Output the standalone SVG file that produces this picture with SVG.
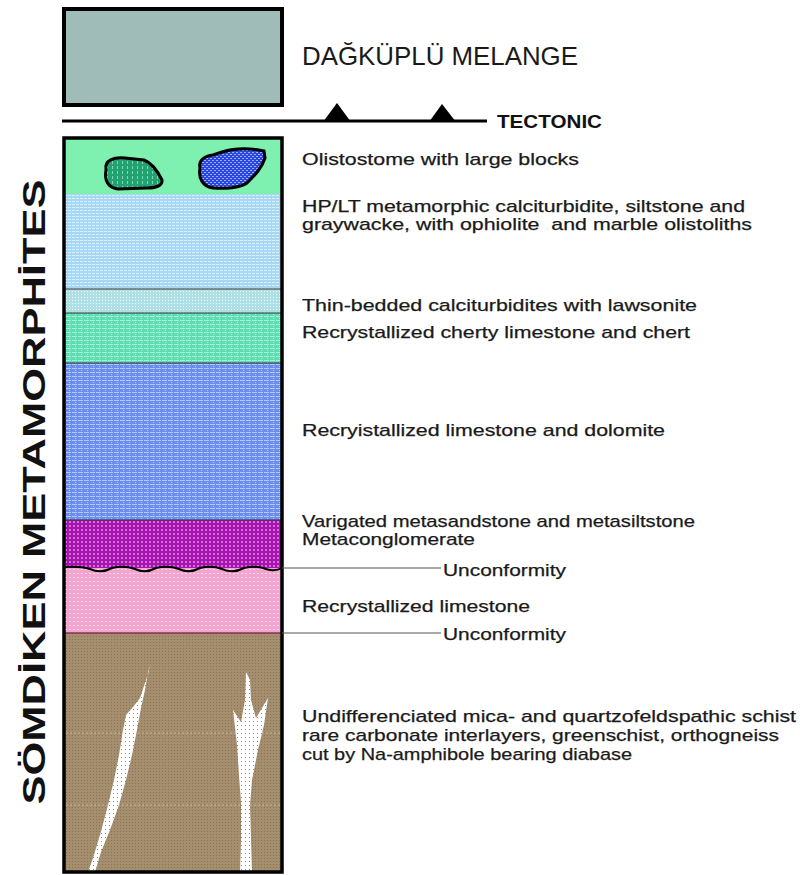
<svg xmlns="http://www.w3.org/2000/svg" width="800" height="875" viewBox="0 0 800 875">
  <style>
    .lbl { font-family: "Liberation Sans", Arial, sans-serif; font-size: 17px; fill: #1a1a1a; stroke: #1a1a1a; stroke-width: 0.25; }
    .edge { fill: none; stroke: #000; }
    .bed { stroke: #333; stroke-width: 1; }
    .lead { stroke: #555; stroke-width: 1; }
  </style>
  <defs>
    <!-- fine textures of the rock layers -->
    <pattern id="pHP" width="4" height="3" patternUnits="userSpaceOnUse">
      <rect width="4" height="3" fill="#a6d8f6"/>
      <rect x="0" y="0" width="3" height="1" fill="#d8f0ff"/>
    </pattern>
    <pattern id="pThin" width="3" height="3" patternUnits="userSpaceOnUse">
      <rect width="3" height="3" fill="#aee0e6"/>
      <rect x="0" y="0" width="1" height="1" fill="#eaffff"/>
    </pattern>
    <pattern id="pChert" width="6" height="4" patternUnits="userSpaceOnUse">
      <rect width="6" height="4" fill="#5edcb2"/>
      <rect x="0" y="0" width="5" height="1" fill="#a8f2d8"/>
      <rect x="3" y="2" width="1" height="1" fill="#a8f2d8"/>
    </pattern>
    <pattern id="pDolo" width="6" height="4" patternUnits="userSpaceOnUse">
      <rect width="6" height="4" fill="#6c8cee"/>
      <rect x="0" y="0" width="5" height="1" fill="#b4c8ff"/>
      <rect x="3" y="2" width="1" height="1" fill="#b4c8ff"/>
    </pattern>
    <pattern id="pPurple" width="4" height="4" patternUnits="userSpaceOnUse">
      <rect width="4" height="4" fill="#a416ae"/>
      <rect x="1" y="1" width="2" height="2" fill="#d868dc"/>
    </pattern>
    <pattern id="pPink" width="4" height="4" patternUnits="userSpaceOnUse">
      <rect width="4" height="4" fill="#f2a6cf"/>
      <rect x="1" y="1" width="2" height="1" fill="#ffd8ec"/>
    </pattern>
    <pattern id="pBrown" width="3" height="3" patternUnits="userSpaceOnUse">
      <rect width="3" height="3" fill="#a58e6e"/>
      <rect x="0" y="0" width="1" height="1" fill="#8a7354"/>
    </pattern>
    <pattern id="pDyke" width="4" height="4" patternUnits="userSpaceOnUse">
      <rect width="4" height="4" fill="#ffffff"/>
      <rect x="1" y="1" width="1" height="1" fill="#8c8c8c"/>
    </pattern>
    <pattern id="pGreenBlk" width="5" height="5" patternUnits="userSpaceOnUse">
      <rect width="5" height="5" fill="#22a272"/>
      <rect x="2" y="1" width="1" height="3" fill="#7fd8b0"/>
    </pattern>
    <pattern id="pBlueBlk" width="4" height="4" patternUnits="userSpaceOnUse">
      <rect width="4" height="4" fill="#2a46e0"/>
      <rect x="0" y="0" width="2" height="1" fill="#9fb0ff"/>
      <rect x="2" y="2" width="2" height="1" fill="#9fb0ff"/>
    </pattern>
  </defs>

  <!-- overlying melange unit -->
  <g id="melange">
    <rect x="64" y="9" width="218" height="96" fill="#9fbcb9" stroke="#000" stroke-width="4"/>
    <text x="302" y="65" font-family="Liberation Sans, Arial, sans-serif" font-size="26" fill="#1a1a1a" textLength="276" lengthAdjust="spacingAndGlyphs">DAĞKÜPLÜ MELANGE</text>
  </g>

  <!-- tectonic contact with thrust teeth -->
  <g id="tectonic">
    <line x1="62" y1="121" x2="487" y2="121" stroke="#000" stroke-width="3"/>
    <polygon points="323,122 337,103 351,122" fill="#000"/>
    <polygon points="429,122 442,104 456,122" fill="#000"/>
    <text x="497" y="128" font-family="Liberation Sans, Arial, sans-serif" font-size="18" font-weight="bold" fill="#111" textLength="105" lengthAdjust="spacingAndGlyphs">TECTONIC</text>
  </g>

  <!-- stratigraphic column -->
  <g id="column">
    <rect id="olistostome" x="64" y="138" width="218" height="56" fill="#7ef0b0"/>
    <rect id="hplt" x="64" y="194" width="218" height="95" fill="url(#pHP)"/>
    <rect id="thinbedded" x="64" y="289" width="218" height="24" fill="url(#pThin)"/>
    <rect id="cherty" x="64" y="313" width="218" height="50" fill="url(#pChert)"/>
    <rect id="dolomite" x="64" y="363" width="218" height="157" fill="url(#pDolo)"/>
    <rect id="metasandstone" x="64" y="520" width="218" height="49" fill="url(#pPurple)"/>
    <rect id="limestone" x="64" y="568" width="218" height="65" fill="url(#pPink)"/>
    <rect id="schist" x="64" y="633" width="218" height="240" fill="url(#pBrown)"/>

    <!-- bedding contacts -->
    <line class="bed" x1="64" y1="289" x2="282" y2="289"/>
    <line class="bed" x1="64" y1="313" x2="282" y2="313"/>
    <line class="bed" x1="64" y1="363" x2="282" y2="363"/>
    <line class="bed" x1="64" y1="520" x2="282" y2="520"/>
    <line x1="64" y1="633" x2="282" y2="633" stroke="#8a3050" stroke-width="1.5"/>
    <line x1="66" y1="733" x2="280" y2="733" stroke="#c8b898" stroke-width="1" stroke-dasharray="2 2"/>
    <line x1="66" y1="805" x2="280" y2="805" stroke="#c8b898" stroke-width="1" stroke-dasharray="2 2"/>

    <!-- erosional base of the metaconglomerate -->
    <path class="edge" stroke-width="2" d="M64,567 Q 80,566 90,569 Q 101,574 112,568 Q 124,565 135,569 Q 145,574 156,568 Q 168,565 179,569 Q 189,574 200,568 Q 212,565 222,569 Q 233,574 244,568 Q 256,565 266,569 Q 275,572 282,568"/>

    <!-- olistoliths -->
    <path id="block-ophiolite" d="M106,170 C104,160 114,157 125,158 L144,160 C152,163 158,172 162,180 C163,186 155,188 147,188 L118,189 C108,188 104,180 106,170 Z" fill="url(#pGreenBlk)" stroke="#000" stroke-width="3"/>
    <path id="block-marble" d="M200,168 C198,160 205,156 213,155 L222,152 C235,148 250,148 264,151 L265,158 C262,168 255,175 247,183 C240,188 225,189 213,188 C203,187 198,178 200,168 Z" fill="url(#pBlueBlk)" stroke="#000" stroke-width="3"/>

    <!-- diabase intrusions in the schist -->
    <polygon id="dyke-left" points="151,664 148,672 145,690 141,708 137,730 132,755 126,780 119,805 110,830 101,852 95,872 88,872 93,858 100,835 108,805 114,780 119,755 123,730 126,715 133,707 140,698 146,680" fill="url(#pDyke)"/>
    <polygon id="dyke-right" points="240,872 241,840 241,803 239,775 237,745 233,710 241,722 245,700 246,672 250,680 251,700 256,718 268,698 264,725 258,750 252,780 250,805 252,872" fill="url(#pDyke)"/>

    <rect x="64" y="138" width="218" height="734" fill="none" stroke="#000" stroke-width="3.5"/>
  </g>

  <!-- unconformity leaders -->
  <g id="connectors">
    <line class="lead" x1="282" y1="568" x2="441" y2="568"/>
    <line class="lead" x1="282" y1="633" x2="441" y2="633"/>
  </g>

  <!-- layer descriptions -->
  <g id="labels">
    <text class="lbl" x="302" y="165" textLength="277" lengthAdjust="spacingAndGlyphs">Olistostome with large blocks</text>
    <text class="lbl" x="302" y="212" textLength="443" lengthAdjust="spacingAndGlyphs">HP/LT metamorphic calciturbidite, siltstone and</text>
    <text class="lbl" x="302" y="230" textLength="450" lengthAdjust="spacingAndGlyphs" xml:space="preserve">graywacke, with ophiolite  and marble olistoliths</text>
    <text class="lbl" x="302" y="311" textLength="395" lengthAdjust="spacingAndGlyphs">Thin-bedded calciturbidites with lawsonite</text>
    <text class="lbl" x="302" y="338" textLength="388" lengthAdjust="spacingAndGlyphs">Recrystallized cherty limestone and chert</text>
    <text class="lbl" x="302" y="436" textLength="363" lengthAdjust="spacingAndGlyphs">Recryistallized limestone and dolomite</text>
    <text class="lbl" x="302" y="527" textLength="393" lengthAdjust="spacingAndGlyphs">Varigated metasandstone and metasiltstone</text>
    <text class="lbl" x="302" y="545" textLength="173" lengthAdjust="spacingAndGlyphs">Metaconglomerate</text>
    <text class="lbl" x="443" y="576" textLength="123" lengthAdjust="spacingAndGlyphs">Unconformity</text>
    <text class="lbl" x="302" y="612" textLength="228" lengthAdjust="spacingAndGlyphs">Recrystallized limestone</text>
    <text class="lbl" x="443" y="640" textLength="123" lengthAdjust="spacingAndGlyphs">Unconformity</text>
    <text class="lbl" x="302" y="722" textLength="494" lengthAdjust="spacingAndGlyphs">Undifferenciated mica- and quartzofeldspathic schist</text>
    <text class="lbl" x="302" y="741" textLength="477" lengthAdjust="spacingAndGlyphs">rare carbonate interlayers, greenschist, orthogneiss</text>
    <text class="lbl" x="302" y="760" textLength="330" lengthAdjust="spacingAndGlyphs">cut by Na-amphibole bearing diabase</text>
  </g>

  <!-- formation name along the column -->
  <g id="formation">
    <text transform="translate(45,492) rotate(-90)" text-anchor="middle" font-family="Liberation Sans, Arial, sans-serif" font-size="32" font-weight="bold" fill="#111" textLength="625" lengthAdjust="spacingAndGlyphs">SÖMDİKEN METAMORPHİTES</text>
  </g>
</svg>
